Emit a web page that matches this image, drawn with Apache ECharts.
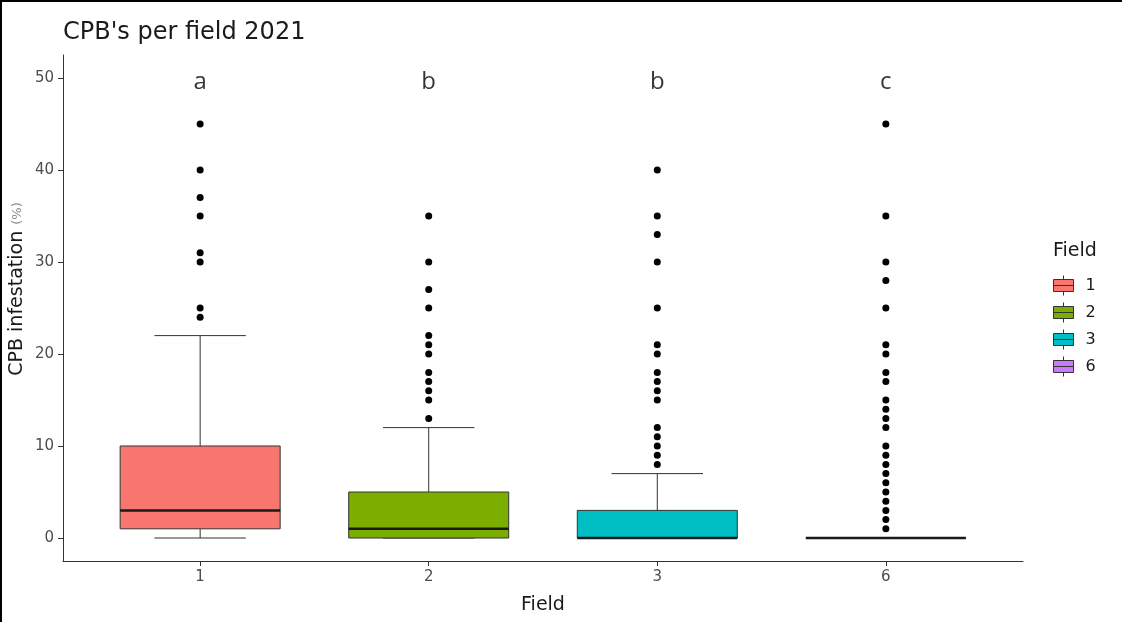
<!DOCTYPE html>
<html>
<head>
<meta charset="utf-8">
<script src="https://cdn.jsdelivr.net/npm/echarts@6/dist/echarts.min.js"></script>
<style>
  html, body { margin: 0; padding: 0; background: #fff; }
  #wrap { position: relative; width: 1122px; height: 622px; }
  #chart { position: absolute; left: 0; top: 0; width: 1122px; height: 622px; }
  #frame { position: absolute; left: 0; top: 0; width: 1122px; height: 622px; box-sizing: border-box;
           border-left: 2px solid #000; border-top: 2px solid #000; pointer-events: none; }
</style>
</head>
<body>
<div id="wrap"><div id="chart"></div><div id="frame"></div></div>
<script>
// ---- data ----
const categories = ['1', '2', '3', '6'];
const fieldPos = [1, 2, 3, 4];
const boxMin = [0, 0, 0, 0];
const boxQ1 = [1, 0, 0, 0];
const boxMedian = [3, 1, 0, 0];
const boxQ3 = [10, 5, 3, 0];
const boxMax = [22, 12, 7, 0];
const outliers1 = [45, 40, 37, 35, 31, 30, 25, 24];
const outliers2 = [35, 30, 27, 25, 22, 21, 20, 18, 17, 16, 15, 13];
const outliers3 = [40, 35, 33, 30, 25, 21, 20, 18, 17, 16, 15, 12, 11, 10, 9, 8];
const outliers6 = [45, 35, 30, 28, 25, 21, 20, 18, 17, 15, 14, 13, 12, 10, 9, 8, 7, 6, 5, 4, 3, 2, 1];
const letters = ['a', 'b', 'b', 'c'];
const letterY = 50;
const yTicks = [0, 10, 20, 30, 40, 50];
const colors = ['#F8766D', '#7CAE00', '#00BFC4', '#C77CFF'];

const outlierLists = [outliers1, outliers2, outliers3, outliers6];
const BOX_W = 0.7;
const CAP_W = 0.4;
const FONT = '"DejaVu Sans", sans-serif';

function renderBox(params, api) {
  const x = api.value(0);
  const pMin = api.coord([x, api.value(1)]);
  const pQ1 = api.coord([x, api.value(2)]);
  const pMed = api.coord([x, api.value(3)]);
  const pQ3 = api.coord([x, api.value(4)]);
  const pMax = api.coord([x, api.value(5)]);
  const bw = api.size([BOX_W, 0])[0];
  const cw = api.size([CAP_W, 0])[0];
  const cx = pMed[0];
  const ln = { stroke: '#333', lineWidth: 1 };
  return {
    type: 'group',
    children: [
      { type: 'line', shape: { x1: cx, y1: pMax[1], x2: cx, y2: pQ3[1] }, style: ln },
      { type: 'line', shape: { x1: cx, y1: pQ1[1], x2: cx, y2: pMin[1] }, style: ln },
      { type: 'line', shape: { x1: cx - cw / 2, y1: pMax[1], x2: cx + cw / 2, y2: pMax[1] }, style: ln },
      { type: 'line', shape: { x1: cx - cw / 2, y1: pMin[1], x2: cx + cw / 2, y2: pMin[1] }, style: ln },
      { type: 'rect', shape: { x: cx - bw / 2, y: pQ3[1], width: bw, height: pQ1[1] - pQ3[1] },
        style: { fill: api.visual('color'), stroke: '#333', lineWidth: 1 } },
      { type: 'line', shape: { x1: cx - bw / 2, y1: pMed[1], x2: cx + bw / 2, y2: pMed[1] },
        style: { stroke: '#1a1a1a', lineWidth: 2.5 } }
    ]
  };
}

const boxSeries = categories.map(function (name, i) {
  return {
    name: name,
    type: 'custom',
    renderItem: renderBox,
    itemStyle: { color: colors[i], borderColor: '#333', borderWidth: 1 },
    encode: { x: 0, y: [1, 2, 3, 4, 5] },
    data: [[fieldPos[i], boxMin[i], boxQ1[i], boxMedian[i], boxQ3[i], boxMax[i]]],
    z: 2
  };
});

const outlierData = [];
outlierLists.forEach(function (list, i) {
  list.forEach(function (v) { outlierData.push([fieldPos[i], v]); });
});

const legendIcon = 'path://M11 0 V4 M1 4 H21 V16 H1 Z M1 10 H21 M11 16 V20';

const option = {
  animation: false,
  backgroundColor: '#ffffff',
  title: [
    { text: "CPB's per field 2021", left: 63, top: 21, padding: 0,
      textStyle: { fontFamily: FONT, fontSize: 24, fontWeight: 'normal', color: '#1a1a1a' } },
    { text: 'Field', left: 1053, top: 242, padding: 0,
      textStyle: { fontFamily: FONT, fontSize: 19, fontWeight: 'normal', color: '#1a1a1a' } }
  ],
  legend: {
    orient: 'vertical',
    left: 1053,
    top: 275,
    padding: 0,
    itemWidth: 22,
    itemHeight: 20,
    itemGap: 6,
    icon: legendIcon,
    data: categories,
    itemStyle: { borderColor: '#333', borderWidth: 1 },
    textStyle: { fontFamily: FONT, fontSize: 16, color: '#1a1a1a', padding: [0, 0, 0, 6] },
    selectedMode: false
  },
  grid: { left: 63, right: 99, top: 55, bottom: 61, containLabel: false, outerBoundsMode: 'none' },
  xAxis: {
    type: 'value',
    min: 0.4,
    max: 4.6,
    name: 'Field',
    nameLocation: 'middle',
    nameGap: 35,
    nameMoveOverlap: false,
    nameTextStyle: { fontFamily: FONT, fontSize: 19, color: '#1a1a1a' },
    axisLine: { show: true, onZero: false, lineStyle: { color: '#333', width: 1 } },
    axisTick: { show: true, length: 5, customValues: fieldPos, lineStyle: { color: '#333' } },
    axisLabel: { customValues: fieldPos, margin: 9, fontFamily: FONT, fontSize: 15, color: '#4d4d4d',
      formatter: function (v) { return categories[Math.round(v) - 1] || ''; } },
    splitLine: { show: false }
  },
  yAxis: {
    type: 'value',
    min: -2.5,
    max: 52.5,
    name: '{a|CPB infestation} {b|(%)}',
    nameLocation: 'middle',
    nameRotate: 90,
    nameGap: 36,
    nameMoveOverlap: false,
    nameTextStyle: {
      fontFamily: FONT, fontSize: 19, color: '#1a1a1a',
      padding: [0, 0, 0, 38],
      rich: {
        a: { fontFamily: FONT, fontSize: 19, color: '#1a1a1a' },
        b: { fontFamily: FONT, fontSize: 13, color: '#8c8c8c' }
      }
    },
    axisLine: { show: true, onZero: false, lineStyle: { color: '#333', width: 1 } },
    axisTick: { show: true, length: 5, customValues: yTicks, lineStyle: { color: '#333' } },
    axisLabel: { customValues: yTicks, margin: 9, fontFamily: FONT, fontSize: 15, color: '#4d4d4d' },
    splitLine: { show: false }
  },
  series: boxSeries.concat([
    {
      name: 'outliers',
      type: 'scatter',
      symbol: 'circle',
      symbolSize: 7,
      itemStyle: { color: '#000', opacity: 1 },
      data: outlierData,
      z: 3
    },
    {
      name: 'letters',
      type: 'scatter',
      symbolSize: 0,
      data: fieldPos.map(function (x) { return [x, letterY]; }),
      label: {
        show: true,
        position: 'inside',
        offset: [0, 4],
        formatter: function (p) { return letters[p.dataIndex]; },
        fontFamily: '"Open Sans", sans-serif',
        fontSize: 24,
        color: '#000'
      },
      z: 4
    }
  ])
};

const chart = echarts.init(document.getElementById('chart'), null, { renderer: 'canvas' });
chart.setOption(option);
</script>
</body>
</html>
